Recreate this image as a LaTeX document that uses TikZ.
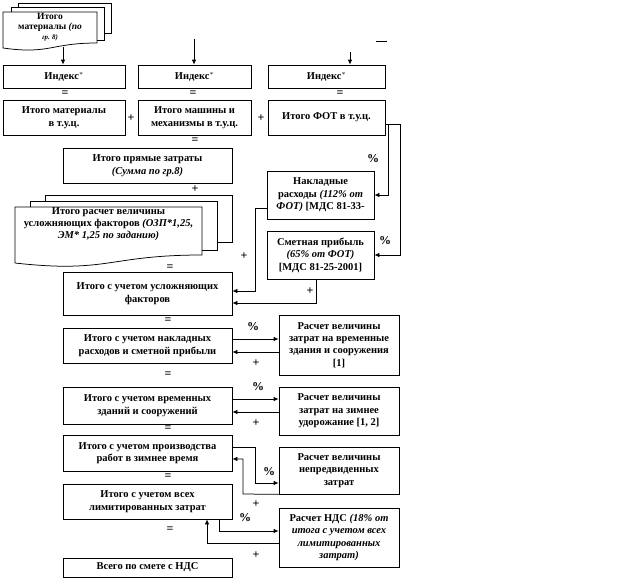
\documentclass[tikz,border=0pt]{standalone}
\usepackage{fontspec}
\setmainfont{Liberation Serif}
\usetikzlibrary{arrows.meta}

\tikzset{every picture/.style={line width=0.75pt}}
\tikzset{
  blok/.style={draw, inner sep=1pt, align=center, font=\bfseries\fontsize{10.5}{12.4}\selectfont},
  tekst/.style={inner sep=0.75pt, align=center, font=\bfseries\fontsize{10.5}{11.8}\selectfont},
  znak/.style={inner sep=0.75pt, font=\bfseries\fontsize{12}{12}\selectfont},
  strelka/.style={-{Latex[length=5pt,width=4.5pt]}}
}

\begin{document}
\begin{tikzpicture}[x=1pt,y=1pt,yscale=-1,xscale=1]
        \path[use as bounding box] (0,0) rectangle (627,582);

        %Shape: Multidocument [id:materialy]
        \draw (18,7) -- (18,3) -- (111,3) -- (111,33) -- (104,33) ;
        \draw (11,12) -- (11,7) -- (104,7) -- (104,40) -- (97,40) ;
        \draw (3,12) -- (97,12) -- (97,43) .. controls (50,43) and (50,54.6) .. (3,48) -- cycle ;
        %Shape: Multidocument [id:uslozhn]
        \draw (45,201) -- (45,195) -- (232,195) -- (232,242) -- (217,242) ;
        \draw (30,207) -- (30,201) -- (217,201) -- (217,250) -- (202,250) ;
        \draw (15,207) -- (202,207) -- (202,255) .. controls (108.5,255) and (108.5,273.5) .. (15,263) -- cycle ;

        % Text Node
        \node[tekst, font=\bfseries\fontsize{9.5}{10}\selectfont] (matdoc) at (50,27.5) {Итого\\материалы \textit{(по}\\{\fontsize{7}{8}\selectfont\textit{гр. 8)}}};
        \node[tekst] (usfdoc) at (108.5,224) {Итого расчет величины\\усложняющих факторов \textit{(ОЗП*1,25,}\\\textit{ЭМ* 1,25 по заданию)}};

        %Shape: Rectangle [id:indeksy]
        \node[blok, minimum width=122, minimum height=23] (ind1) at (64,76.5) {Индекс$^*$};
        \node[blok, minimum width=113, minimum height=23] (ind2) at (194.5,76.5) {Индекс$^*$};
        \node[blok, minimum width=117, minimum height=23] (ind3) at (326.5,76.5) {Индекс$^*$};
        %Shape: Rectangle [id:tuc]
        \node[blok, minimum width=122, minimum height=35] (mat) at (64,117.5) {Итого материалы\\в т.у.ц.};
        \node[blok, minimum width=113, minimum height=35] (mash) at (194.5,117.5) {Итого машины и\\механизмы в т.у.ц.};
        \node[blok, minimum width=117, minimum height=35] (fot) at (326.5,117.5) {Итого ФОТ в т.у.ц.};
        %Shape: Rectangle [id:pryamye]
        \node[blok, minimum width=169, minimum height=35] (pryam) at (147.5,165.5) {Итого прямые затраты\\\textit{(Сумма по гр.8)}};
        \node[blok, minimum width=107, minimum height=48] (nakl) at (320.5,195) {Накладные\\расходы \textit{(112\% от}\\\textit{ФОТ)} [МДС 81-33-};
        \node[blok, minimum width=107, minimum height=48] (smeta) at (320.5,255) {Сметная прибыль\\\textit{(65\% от ФОТ)}\\{[МДС 81-25-2001]}};
        \node[blok, minimum width=169, minimum height=43] (usl) at (147.5,293.5) {Итого с учетом усложняющих\\факторов};
        %Shape: Rectangle [id:itogi]
        \node[blok, minimum width=169, minimum height=35] (nakI) at (147.5,345.5) {Итого с учетом накладных\\расходов и сметной прибыли};
        \node[blok, minimum width=120, minimum height=60] (vremR) at (339,345) {Расчет величины\\затрат на временные\\здания и сооружения\\{[1]}};
        \node[blok, minimum width=169, minimum height=37] (vremI) at (147.5,405.5) {Итого с учетом временных\\зданий и сооружений};
        \node[blok, minimum width=120, minimum height=48] (zimR) at (339,411) {Расчет величины\\затрат на зимнее\\удорожание [1, 2]};
        \node[blok, minimum width=169, minimum height=36] (zimI) at (147.5,453) {Итого с учетом производства\\работ в зимнее время};
        \node[blok, minimum width=120, minimum height=47] (nepR) at (339,470.5) {Расчет величины\\непредвиденных\\затрат};
        \node[blok, minimum width=169, minimum height=35] (limI) at (147.5,501.5) {Итого с учетом всех\\лимитированных затрат};
        \node[blok, minimum width=120, minimum height=59] (ndsR) at (339,537.5) {Расчет НДС \textit{(18\% от}\\\textit{итога с учетом всех}\\\textit{лимитированных}\\\textit{затрат)}};
        \node[blok, minimum width=169, minimum height=19] (vsego) at (147.5,567.5) {Всего по смете с НДС};

        % Text Node
        \node[znak] (rv1) at (65,94) {=};
        \node[znak] (rv2) at (193,94) {=};
        \node[znak] (rv3) at (340,94) {=};
        \node[znak] (pl1) at (131,118) {+};
        \node[znak] (pl2) at (261,118) {+};
        \node[znak] (rv4) at (195,141) {=};
        \node[znak] (pl3) at (195,189) {+};
        \node[znak] (rv5) at (170,268) {=};
        \node[znak] (pc1) at (373,159) {\%};
        \node[znak] (pc2) at (385,241) {\%};
        \node[znak] (pl4) at (244,256) {+};
        \node[znak] (pl5) at (310,291) {+};
        \node[znak] (rv6) at (168,321) {=};
        \node[znak] (pc3) at (253,327) {\%};
        \node[znak] (pl6) at (256,363) {+};
        \node[znak] (rv7) at (168,375) {=};
        \node[znak] (pc4) at (258,387) {\%};
        \node[znak] (pl7) at (256,423) {+};
        \node[znak] (rv8) at (168,429) {=};
        \node[znak] (rv9) at (168,477) {=};
        \node[znak] (pc5) at (269,472) {\%};
        \node[znak] (pl8) at (256,504) {+};
        \node[znak] (pc6) at (245,518) {\%};
        \node[znak] (rv10) at (170,530) {=};
        \node[znak] (pl9) at (256,555) {+};

        %Straight Lines [id:vhody]
        \coordinate (matniz) at (63,47);
        \coordinate (vh2) at (194,39);
        \coordinate (vh3) at (350,52);
        \draw[strelka] (matniz) -- (matniz |- ind1.north) ;
        \draw[strelka] (vh2) -- (vh2 |- ind2.north) ;
        \draw[strelka] (vh3) -- (vh3 |- ind3.north) ;
        \coordinate (tire1) at (376,41);
        \coordinate (tire2) at (387,41);
        \draw (tire1) -- (tire2) ;

        %Straight Lines [id:fot]
        \coordinate (k1) at (400,124);
        \coordinate (k2) at (388,124);
        \draw[strelka] (fot.east |- k1) -- (k1) |- (smeta.east) ;
        \draw[strelka] (k2) |- (nakl.east) ;
        \coordinate (k3) at (255,208);
        \coordinate (k4) at (255,291);
        \draw[strelka] (nakl.west |- k3) -- (k3) -- (k4) -- (usl.east |- k4) ;
        \coordinate (k5) at (316,303);
        \draw[strelka] (smeta.south -| k5) -- (k5) -- (usl.east |- k5) ;

        %Straight Lines [id:raschety]
        \draw[strelka] ([yshift=-6.5pt]nakI.east) -- ([yshift=-6.5pt]nakI.east -| vremR.west) ;
        \draw[strelka] ([yshift=6.5pt]nakI.east -| vremR.west) -- ([yshift=6.5pt]nakI.east) ;
        \draw[strelka] ([yshift=-6.5pt]vremI.east) -- ([yshift=-6.5pt]vremI.east -| zimR.west) ;
        \draw[strelka] ([yshift=6.5pt]vremI.east -| zimR.west) -- ([yshift=6.5pt]vremI.east) ;
        \coordinate (k7) at (255,447);
        \coordinate (k8) at (255,483);
        \draw[strelka] (zimI.east |- k7) -- (k7) -- (k8) -- (nepR.west |- k8) ;
        \coordinate (k9) at (243,494);
        \coordinate (k10) at (243,459);
        \draw[strelka] (nepR.south west) -- (k9) -- (k10) -- (zimI.east |- k10) ;
        \coordinate (k11) at (219,531);
        \draw[strelka] (limI.south -| k11) -- (k11) -- (ndsR.west |- k11) ;
        \coordinate (k12) at (207,543);
        \draw[strelka] (ndsR.west |- k12) -- (k12) -- (limI.south -| k12) ;

\end{tikzpicture}
\end{document}
